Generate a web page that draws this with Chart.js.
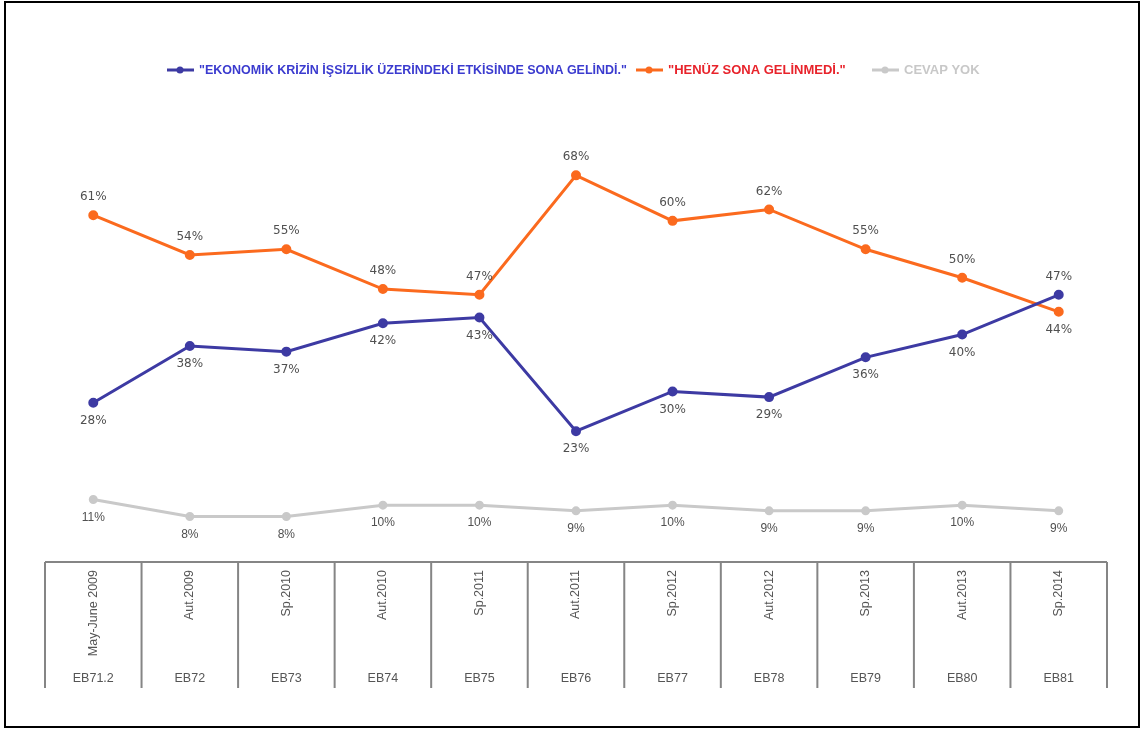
<!DOCTYPE html>
<html>
<head>
<meta charset="utf-8">
<script src="https://cdn.jsdelivr.net/npm/chart.js@4/dist/chart.umd.min.js"></script>
<style>
  html, body { margin: 0; padding: 0; background: #fff; }
  #wrap { width: 1144px; height: 729px; }
</style>
</head>
<body>
<div id="wrap"><canvas id="lineChart" width="1144" height="729"></canvas></div>
<script>
// donnees
var periodes = ["May-June 2009", "Aut.2009", "Sp.2010", "Aut.2010", "Sp.2011", "Aut.2011",
    "Sp.2012", "Aut.2012", "Sp.2013", "Aut.2013", "Sp.2014"];
var vagues = ["EB71.2", "EB72", "EB73", "EB74", "EB75", "EB76", "EB77", "EB78", "EB79", "EB80", "EB81"];
var sonaGelindi = [28, 38, 37, 42, 43, 23, 30, 29, 36, 40, 47];
var sonaGelinmedi = [61, 54, 55, 48, 47, 68, 60, 62, 55, 50, 44];
var cevapYok = [11, 8, 8, 10, 10, 9, 10, 9, 9, 10, 9];
var legendTexts = ['"EKONOMİK KRİZİN İŞSİZLİK ÜZERİNDEKİ ETKİSİNDE SONA GELİNDİ."',
    '"HENÜZ SONA GELİNMEDİ."', "CEVAP YOK"];

var blauw = "#3d3aa3";
var oranje = "#fb6a1e";
var grijs = "#c9c9c9";

// labels, legend, table under the chart, frame
var extras = {
    id: "extras",
    afterDatasetsDraw: function (chart) {
        var ctx = chart.ctx;
        var x = chart.scales.x;
        var area = chart.chartArea;
        var alle = chart.data.datasets.map(function (d) { return d.data; });

        ctx.save();
        // data labels
        chart.data.datasets.forEach(function (ds, di) {
            var meta = chart.getDatasetMeta(di);
            meta.data.forEach(function (pt, i) {
                var maxHier = Math.max.apply(null, alle.map(function (a) { return a[i]; }));
                var boven = ds.data[i] === maxHier;
                ctx.fillStyle = "#505050";
                ctx.font = di === 2 ? "12px 'Liberation Sans Narrow', 'Liberation Sans'" : "12px 'DejaVu Sans'";
                ctx.textAlign = "center";
                ctx.textBaseline = "middle";
                ctx.fillText(ds.data[i] + "%", pt.x, pt.y + (boven ? -18 : 18));
            });
        });

        // table
        var top = area.bottom;
        var bodem = 688;
        ctx.strokeStyle = "#858585";
        ctx.lineWidth = 2;
        ctx.beginPath();
        var stap = x.getPixelForValue(1) - x.getPixelForValue(0);
        var links = x.getPixelForValue(0) - stap / 2;
        ctx.moveTo(links, top);
        ctx.lineTo(links + stap * periodes.length, top);
        for (var k = 0; k <= periodes.length; k++) {
            var lx = links + k * stap;
            ctx.moveTo(lx, top);
            ctx.lineTo(lx, bodem);
        }
        ctx.stroke();

        ctx.fillStyle = "#555";
        ctx.font = "12.5px 'Liberation Sans'";
        periodes.forEach(function (p, i) {
            var px = x.getPixelForValue(i);
            ctx.save();
            ctx.translate(px, top + 8);
            ctx.rotate(-Math.PI / 2);
            ctx.textAlign = "right";
            ctx.textBaseline = "middle";
            ctx.fillText(p, 0, 0);
            ctx.restore();
            ctx.textAlign = "center";
            ctx.textBaseline = "middle";
            ctx.fillText(vagues[i], px, 679);
        });

        // legend
        var kleuren = [blauw, oranje, grijs];
        var tekstKleur = ["#3b3bcf", "#e8232b", "#c8c8c8"];
        var breedtes = [428, 180, 76];
        var startX = [167, 636, 872];
        ctx.font = "bold 13px 'Liberation Sans Narrow', 'Liberation Sans'";
        ctx.textBaseline = "middle";
        ctx.textAlign = "left";
        for (var j = 0; j < 3; j++) {
            ctx.strokeStyle = kleuren[j];
            ctx.lineWidth = 3;
            ctx.beginPath();
            ctx.moveTo(startX[j], 70);
            ctx.lineTo(startX[j] + 27, 70);
            ctx.stroke();
            ctx.fillStyle = kleuren[j];
            ctx.beginPath();
            ctx.arc(startX[j] + 13, 70, 3.5, 0, Math.PI * 2);
            ctx.fill();
            ctx.fillStyle = tekstKleur[j];
            ctx.fillText(legendTexts[j], startX[j] + 32, 70, breedtes[j]);
        }

        // frame
        ctx.strokeStyle = "#000";
        ctx.lineWidth = 2;
        ctx.strokeRect(5, 2, 1134, 725);
        ctx.restore();
    }
};

var ctxL = document.getElementById("lineChart").getContext("2d");
var myLineChart = new Chart(ctxL, {
    type: "line",
    data: {
        labels: periodes,
        datasets: [{
            label: legendTexts[0],
            data: sonaGelindi,
            borderColor: blauw,
            backgroundColor: blauw,
            borderWidth: 3,
            pointRadius: 3.5
        }, {
            label: legendTexts[1],
            data: sonaGelinmedi,
            borderColor: oranje,
            backgroundColor: oranje,
            borderWidth: 3,
            pointRadius: 3.5
        }, {
            label: legendTexts[2],
            data: cevapYok,
            borderColor: grijs,
            backgroundColor: grijs,
            borderWidth: 3,
            pointRadius: 3
        }]
    },
    options: {
        responsive: false,
        animation: false,
        layout: { padding: { top: 164, bottom: 167, left: 45, right: 37 } },
        scales: {
            x: { display: false, offset: true },
            y: { display: false, min: 0, max: 70 }
        },
        plugins: {
            legend: { display: false },
            tooltip: { enabled: false }
        }
    },
    plugins: [extras]
});
</script>
</body>
</html>
